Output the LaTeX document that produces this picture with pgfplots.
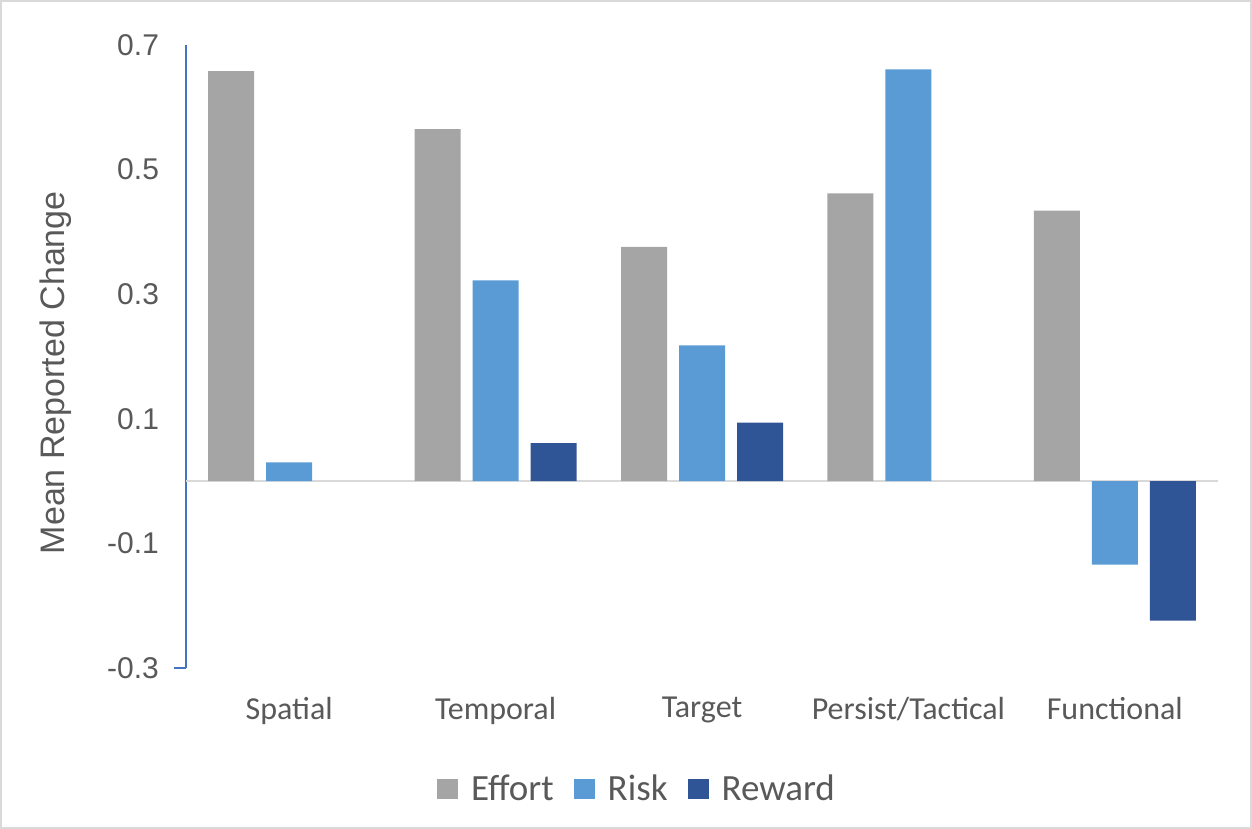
\documentclass[border=0pt]{standalone}
\usepackage{pgfplots}
\pgfplotsset{compat=1.18}
\usepackage{fontspec}
\setmainfont{Carlito}
\newfontfamily\arialf{Liberation Sans}
\definecolor{effortc}{HTML}{A5A5A5}
\definecolor{riskc}{HTML}{5B9BD5}
\definecolor{rewardc}{HTML}{2F5597}
\definecolor{txtc}{HTML}{595959}
\definecolor{axblue}{HTML}{4472C4}
\definecolor{gridc}{HTML}{D9D9D9}
\begin{document}
\begin{tikzpicture}
\useasboundingbox (0,0) rectangle (626pt,414.5pt);
\draw[gridc, line width=0.8pt] (0.4pt,0.4pt) rectangle (625.6pt,414.1pt);
\begin{axis}[
  at={(93pt,80.5pt)}, anchor=south west,
  scale only axis, width=516pt, height=311.5pt,
  ybar=6pt, bar width=23pt,
  xmin=-0.5, xmax=4.5, ymin=-0.3, ymax=0.7,
  axis y line=left, axis x line=bottom,
  x axis line style={draw=none},
  y axis line style={-, draw=axblue, line width=1pt},
  xtick={0,1,2,3,4},
  xticklabels={Spatial,Temporal,Target,Persist/Tactical,Functional},
  ytick={-0.3,-0.1,0.1,0.3,0.5,0.7},
  yticklabels={-0.3,-0.1,0.1,0.3,0.5,0.7},
  major tick length=0pt,
  xticklabel style={font=\fontsize{16}{19}\selectfont, text=txtc, yshift=-11pt},
  yticklabel style={font=\arialf\fontsize{15}{18}\selectfont, text=txtc, xshift=-10pt},
  extra y ticks={-0.3}, extra y tick labels={},
  extra y tick style={major tick length=6pt, tick align=outside, tick style={axblue, line width=1pt}},
  ylabel={Mean Reported Change},
  every axis y label/.style={at={(rel axis cs:0,0.474)}, xshift=-65pt, rotate=90, anchor=center,
    font=\arialf\fontsize{17}{20}\selectfont, text=txtc},
  legend columns=-1,
  legend style={draw=none, at={(rel axis cs:0.438,0)}, anchor=center, yshift=-60.5pt,
    font=\fontsize{18.5}{22}\selectfont, text=txtc,
    /tikz/every even column/.append style={column sep=8pt},
    /tikz/every odd column/.append style={column sep=4.5pt}},
  legend image code/.code={\fill[#1] (0pt,-5.2pt) rectangle (10.5pt,5.2pt);},
  clip=false,
]
\draw[gridc, line width=1pt] (axis cs:-0.5,0) -- (axis cs:4.5,0);
\addplot[fill=effortc, draw=none] coordinates {(0,0.658) (1,0.565) (2,0.376) (3,0.462) (4,0.434)};
\addplot[fill=riskc, draw=none] coordinates {(0,0.030) (1,0.322) (2,0.218) (3,0.661) (4,-0.134)};
\addplot[fill=rewardc, draw=none] coordinates {(1,0.061) (2,0.094) (4,-0.224)};
\legend{Effort,Risk,Reward}
\end{axis}
\end{tikzpicture}
\end{document}
